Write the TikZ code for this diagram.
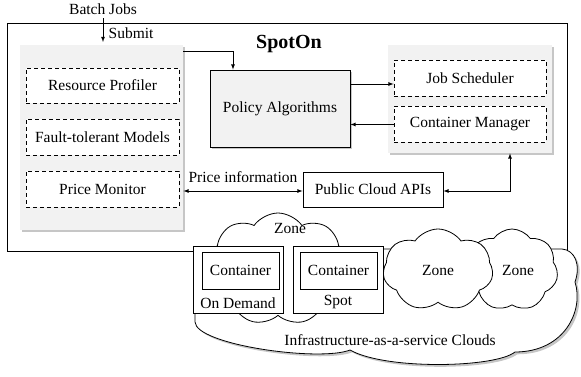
\documentclass[tikz,border=0pt]{standalone}
\usepackage{fontspec}
\setmainfont{Liberation Serif}
\usetikzlibrary{shapes.symbols,shadows,positioning,calc}

\begin{document}
\begin{tikzpicture}[x=1pt,y=-1pt,>=latex,line width=0.8pt,
		font=\fontsize{15.5}{18}\selectfont]
	\tikzstyle{panel}=[fill=gray!10, drop shadow={opacity=0.45}, inner sep=0pt]
	\tikzstyle{module}=[draw, dashed, dash pattern=on 4pt off 3pt, fill=white, inner sep=0pt]
	\tikzstyle{box}=[draw, fill=white, inner sep=0pt]
	\tikzstyle{zone}=[draw, cloud, cloud puffs=7, cloud puff arc=110, cloud ignores aspect, fill=white, inner sep=0pt]
	\useasboundingbox (0,0) rectangle (581,377);

	% SpotOn frame
	\draw (7,23) rectangle (567,251);
	\node (spoton) at (289,44) {\fontsize{20}{22}\selectfont\bfseries SpotOn};
	\node (jobs) at (103,9) {Batch Jobs};

	% left panel
	\node[panel, minimum width=163, minimum height=185] (left) at (101.5,137.5) {};
	\node[module, minimum width=153, minimum height=35] (profiler) at (102.5,85.5) {Resource Profiler};
	\node[module, minimum width=153, minimum height=36] (fault) at (102.5,137) {Fault-tolerant Models};
	\node[module, minimum width=153, minimum height=36] (monitor) at (102.5,189) {Price Monitor};

	% policy
	\node[box, fill=gray!10, drop shadow={opacity=0.45}, minimum width=140, minimum height=77] (policy) at (280,108.5) {Policy Algorithms};

	% right panel
	\node[panel, minimum width=164, minimum height=108] (right) at (470,99) {};
	\node[module, minimum width=152, minimum height=36] (scheduler) at (470,78) {Job Scheduler};
	\node[module, minimum width=152, minimum height=36] (manager) at (470,124.5) {Container Manager};

	\node[box, minimum width=140, minimum height=35] (api) at (373,189.5) {Public Cloud APIs};

	% arrows
	\draw[->] (jobs.south) -- (jobs.south |- 0,42) node[right=2pt, pos=0.65] {Submit};
	\draw[->] (left.east |- 0,51) -| (233,0 |- policy.north);
	\draw[->] (policy.east |- 0,84) -- (scheduler.west |- 0,84);
	\draw[->] (manager.west) -- (manager.west -| policy.east);
	\draw[<->] (left.east |- 0,191) -- node[above=5pt, pos=0.5] {Price information} (api.west |- 0,191);
	\draw[<->] (api.east |- 0,191) -| (510,0 |- right.south);

	% clouds
	\draw[fill=white, drop shadow={opacity=0.45}] (195,249) -- (195,322)
		.. controls (196,345) and (320,362) .. (350,350)
		.. controls (385,370) and (495,368) .. (515,352)
		.. controls (565,352) and (584,310) .. (575,282)
		.. controls (581,265) and (575,250) .. (562,249) -- cycle;
	\node (iaas) at (390,340) {Infrastructure-as-a-service Clouds};
	\node[zone, minimum width=92, minimum height=82] (zone3) at (512,270) {};
	\node[zone, minimum width=110, minimum height=82] (zone2) at (438,270) {Zone};
	\node (zone3label) at (518,270) {Zone};
	\node[zone, cloud puffs=9, minimum width=148, minimum height=112] (zone1) at (278,269) {};
	\node (zone1label) at (290,229) {Zone};

	% containers
	\node[box, minimum width=90, minimum height=67] (ondemand) at (238,279.5) {};
	\node[box, minimum width=77, minimum height=37] (cont1) at (240.5,270.5) {Container};
	\node (odlabel) at (238,303) {On Demand};
	\node[box, minimum width=90, minimum height=67] (spot) at (338,279.5) {};
	\node[box, minimum width=77, minimum height=37] (cont2) at (338.5,270.5) {Container};
	\node (spotlabel) at (338,302) {Spot};
\end{tikzpicture}
\end{document}
